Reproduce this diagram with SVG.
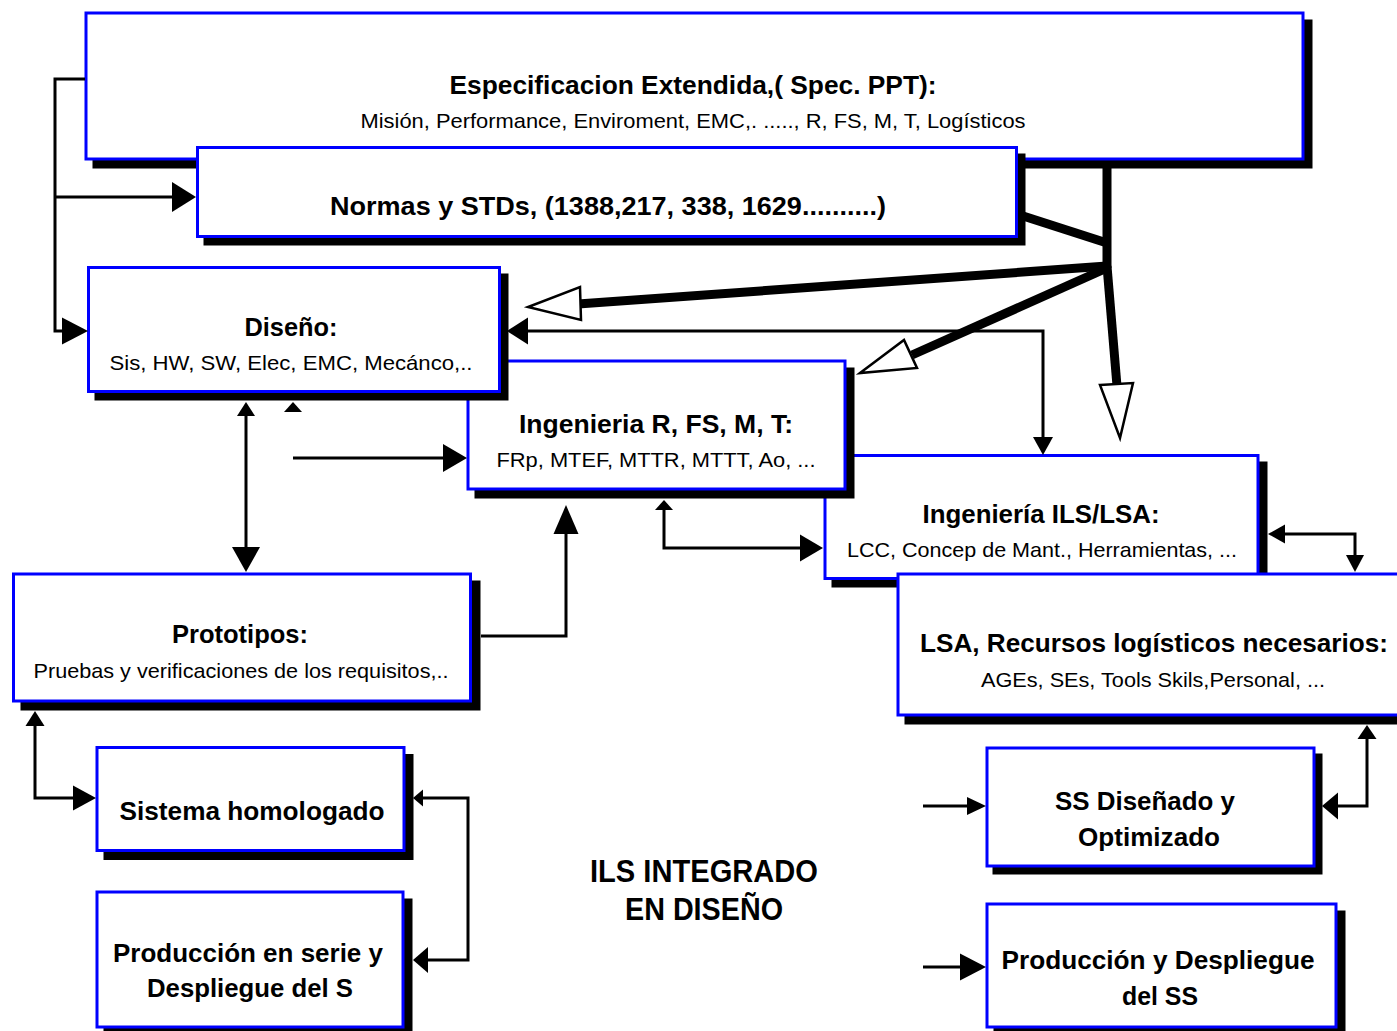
<svg xmlns="http://www.w3.org/2000/svg" xmlns:xlink="http://www.w3.org/1999/xlink" width="1397" height="1031" viewBox="0 0 1397 1031">
  <style>
    .box { fill: #ffffff; stroke: #0000ff; stroke-width: 3; }
    .shd { fill: #000000; stroke: #000000; stroke-width: 3; }
    .t { font-family: "Liberation Sans", Arial, sans-serif; font-weight: bold; font-size: 25px; fill: #000; text-anchor: middle; }
    .s { font-family: "Liberation Sans", Arial, sans-serif; font-size: 21px; fill: #000; text-anchor: middle; }
    .big { font-family: "Liberation Sans", Arial, sans-serif; font-weight: bold; font-size: 31px; fill: #000; text-anchor: middle; }
    .ln { fill: none; stroke: #000; stroke-width: 3; }
    .thick { fill: none; stroke: #000; stroke-width: 9; stroke-linecap: butt; }
    .open { fill: #fff; stroke: #000; stroke-width: 2.5; stroke-linejoin: miter; }
  </style>
  <defs>
    <!-- unit arrowhead: tip at origin, pointing +x, length 1, width 1 -->
    <polygon id="ah" points="0,0 -1,-0.5 -1,0.5" fill="#000"/>
  </defs>

  <!-- nodes -->
  <g id="especificacion">
    <rect class="shd" x="94" y="21" width="1217" height="146"/>
    <rect class="box" x="86" y="13" width="1217" height="146"/>
    <text class="t" x="693" y="94" textLength="487" lengthAdjust="spacingAndGlyphs">Especificacion Extendida,( Spec. PPT):</text>
    <text class="s" x="693" y="128" textLength="665" lengthAdjust="spacingAndGlyphs">Misión, Performance, Enviroment, EMC,. ....., R, FS, M, T, Logísticos</text>
  </g>

  <g id="normas">
    <rect class="shd" x="205" y="155" width="819" height="89"/>
    <rect class="box" x="197.5" y="147.5" width="819" height="89"/>
    <text class="t" x="608" y="215" textLength="556" lengthAdjust="spacingAndGlyphs">Normas y STDs, (1388,217, 338, 1629..........)</text>
  </g>

  <g id="ingenieria-ils">
    <rect class="shd" x="833" y="463" width="433" height="123"/>
    <rect class="box" x="825" y="455.5" width="433" height="123"/>
    <text class="t" x="1041" y="523" textLength="237" lengthAdjust="spacingAndGlyphs">Ingeniería ILS/LSA:</text>
    <text class="s" x="1042" y="557" textLength="390" lengthAdjust="spacingAndGlyphs">LCC, Concep de Mant., Herramientas, ...</text>
  </g>

  <g id="lsa-recursos">
    <rect class="shd" x="906" y="582" width="530" height="141"/>
    <rect class="box" x="898" y="574" width="530" height="141"/>
    <text class="t" x="1154" y="652" textLength="468" lengthAdjust="spacingAndGlyphs">LSA, Recursos logísticos necesarios:</text>
    <text class="s" x="1153" y="687" textLength="344" lengthAdjust="spacingAndGlyphs">AGEs, SEs, Tools  Skils,Personal, ...</text>
  </g>

  <g id="ingenieria-rfsmt">
    <rect class="shd" x="476" y="369" width="377" height="128"/>
    <rect class="box" x="468" y="361" width="377" height="128"/>
    <text class="t" x="656" y="433" textLength="274" lengthAdjust="spacingAndGlyphs">Ingenieria R, FS, M, T:</text>
    <text class="s" x="656" y="467" textLength="319" lengthAdjust="spacingAndGlyphs">FRp, MTEF, MTTR, MTTT, Ao, ...</text>
  </g>

  <g id="diseno">
    <rect class="shd" x="96" y="275" width="411" height="124"/>
    <rect class="box" x="88.5" y="267.5" width="411" height="124"/>
    <text class="t" x="291" y="336" textLength="93" lengthAdjust="spacingAndGlyphs">Diseño:</text>
    <text class="s" x="291" y="370" textLength="363" lengthAdjust="spacingAndGlyphs">Sis, HW, SW, Elec, EMC, Mecánco,..</text>
  </g>

  <g id="prototipos">
    <rect class="shd" x="22" y="582" width="457" height="127"/>
    <rect class="box" x="13.5" y="574" width="457" height="127"/>
    <text class="t" x="240" y="643" textLength="136" lengthAdjust="spacingAndGlyphs">Prototipos:</text>
    <text class="s" x="241" y="678" textLength="415" lengthAdjust="spacingAndGlyphs">Pruebas y verificaciones de los requisitos,..</text>
  </g>

  <g id="sistema-homologado">
    <rect class="shd" x="105" y="755.5" width="307" height="103"/>
    <rect class="box" x="97" y="747.5" width="307" height="103"/>
    <text class="t" x="252" y="820" textLength="265" lengthAdjust="spacingAndGlyphs">Sistema homologado</text>
  </g>

  <g id="produccion-serie">
    <rect class="shd" x="105" y="900" width="306" height="135"/>
    <rect class="box" x="97" y="892" width="306" height="135"/>
    <text class="t" x="248" y="962" textLength="270" lengthAdjust="spacingAndGlyphs">Producción en serie y</text>
    <text class="t" x="250" y="997" textLength="206" lengthAdjust="spacingAndGlyphs">Despliegue del S</text>
  </g>

  <g id="ss-disenado">
    <rect class="shd" x="994" y="755" width="327" height="118"/>
    <rect class="box" x="987" y="748" width="327" height="118"/>
    <text class="t" x="1145" y="810" textLength="180" lengthAdjust="spacingAndGlyphs">SS Diseñado y</text>
    <text class="t" x="1149" y="846" textLength="142" lengthAdjust="spacingAndGlyphs">Optimizado</text>
  </g>

  <g id="produccion-despliegue">
    <rect class="shd" x="995" y="912" width="349" height="123"/>
    <rect class="box" x="987" y="904" width="349" height="123"/>
    <text class="t" x="1158" y="969" textLength="313" lengthAdjust="spacingAndGlyphs">Producción y Despliegue</text>
    <text class="t" x="1160" y="1005" textLength="76" lengthAdjust="spacingAndGlyphs">del SS</text>
  </g>

  <g id="titulo">
    <text class="big" x="704" y="882" textLength="228" lengthAdjust="spacingAndGlyphs">ILS INTEGRADO</text>
    <text class="big" x="704" y="920" textLength="158" lengthAdjust="spacingAndGlyphs">EN DISEÑO</text>
  </g>

  <!-- connectors -->
  <g id="connectors">
    <!-- thick distribution lines from the specification -->
    <line class="thick" x1="1107" y1="166" x2="1107" y2="268" stroke-width="10"/>
    <line class="thick" x1="1020" y1="215" x2="1107" y2="243"/>
    <line class="thick" x1="578" y1="304" x2="1107" y2="266"/>
    <line class="thick" x1="912" y1="355" x2="1107" y2="268"/>
    <line class="thick" x1="1107" y1="266" x2="1117" y2="386" stroke-width="10"/>
    <polygon class="open" points="580,287 581,320 528,307"/>
    <polygon class="open" points="860,373 904,340 917,368"/>
    <polygon class="open" points="1100,385 1133,383 1120,438"/>

    <!-- specification to standards and design -->
    <polyline class="ln" points="85,79 55,79 55,331 64,331"/>
    <line class="ln" x1="55" y1="197" x2="175" y2="197"/>
    <use xlink:href="#ah" transform="translate(196,197) scale(24,30)"/>
    <use xlink:href="#ah" transform="translate(88,331) scale(26,27)"/>

    <!-- design to ILS engineering -->
    <polyline class="ln" points="526,331 1043,331 1043,440"/>
    <use xlink:href="#ah" transform="translate(507,331) rotate(180) scale(21,27)"/>
    <use xlink:href="#ah" transform="translate(1043,455) rotate(90) scale(18,20)"/>

    <!-- design to prototypes -->
    <line class="ln" x1="246" y1="414" x2="246" y2="550"/>
    <use xlink:href="#ah" transform="translate(246,402) rotate(-90) scale(14,18)"/>
    <use xlink:href="#ah" transform="translate(246,572) rotate(90) scale(25,28)"/>

    <!-- design to R, FS, M, T engineering -->
    <use xlink:href="#ah" transform="translate(293,402) rotate(-90) scale(10,18)"/>
    <line class="ln" x1="293" y1="458" x2="446" y2="458"/>
    <use xlink:href="#ah" transform="translate(467,458) scale(24,28)"/>

    <!-- prototypes to R, FS, M, T engineering -->
    <polyline class="ln" points="481,636 566,636 566,530"/>
    <use xlink:href="#ah" transform="translate(566,505) rotate(-90) scale(29,25)"/>

    <!-- R, FS, M, T engineering and ILS engineering -->
    <polyline class="ln" points="664,508 664,548 803,548"/>
    <use xlink:href="#ah" transform="translate(664,500) rotate(-90) scale(10,18)"/>
    <use xlink:href="#ah" transform="translate(823,548) scale(23,27)"/>

    <!-- ILS engineering and logistic resources -->
    <polyline class="ln" points="1283,534 1355,534 1355,557"/>
    <use xlink:href="#ah" transform="translate(1268,534) rotate(180) scale(17,19)"/>
    <use xlink:href="#ah" transform="translate(1355,572) rotate(90) scale(17,18)"/>

    <!-- prototypes and homologated system -->
    <polyline class="ln" points="35,724 35,798 76,798"/>
    <use xlink:href="#ah" transform="translate(35,711) rotate(-90) scale(15,19)"/>
    <use xlink:href="#ah" transform="translate(96,798) scale(23,25)"/>

    <!-- homologated system and series production -->
    <polyline class="ln" points="421,798 468,798 468,960 426,960"/>
    <use xlink:href="#ah" transform="translate(413,798) rotate(180) scale(10,17)"/>
    <use xlink:href="#ah" transform="translate(413,960) rotate(180) scale(15,26)"/>

    <!-- inputs to SS designed / production and deployment -->
    <line class="ln" x1="923" y1="806" x2="970" y2="806"/>
    <use xlink:href="#ah" transform="translate(986,806) scale(19,18)"/>
    <polyline class="ln" points="1336,806 1367,806 1367,737"/>
    <use xlink:href="#ah" transform="translate(1322,806) rotate(180) scale(16,27)"/>
    <use xlink:href="#ah" transform="translate(1367,725) rotate(-90) scale(14,19)"/>
    <line class="ln" x1="923" y1="967" x2="963" y2="967"/>
    <use xlink:href="#ah" transform="translate(986,967) scale(26,27)"/>
  </g>
</svg>
